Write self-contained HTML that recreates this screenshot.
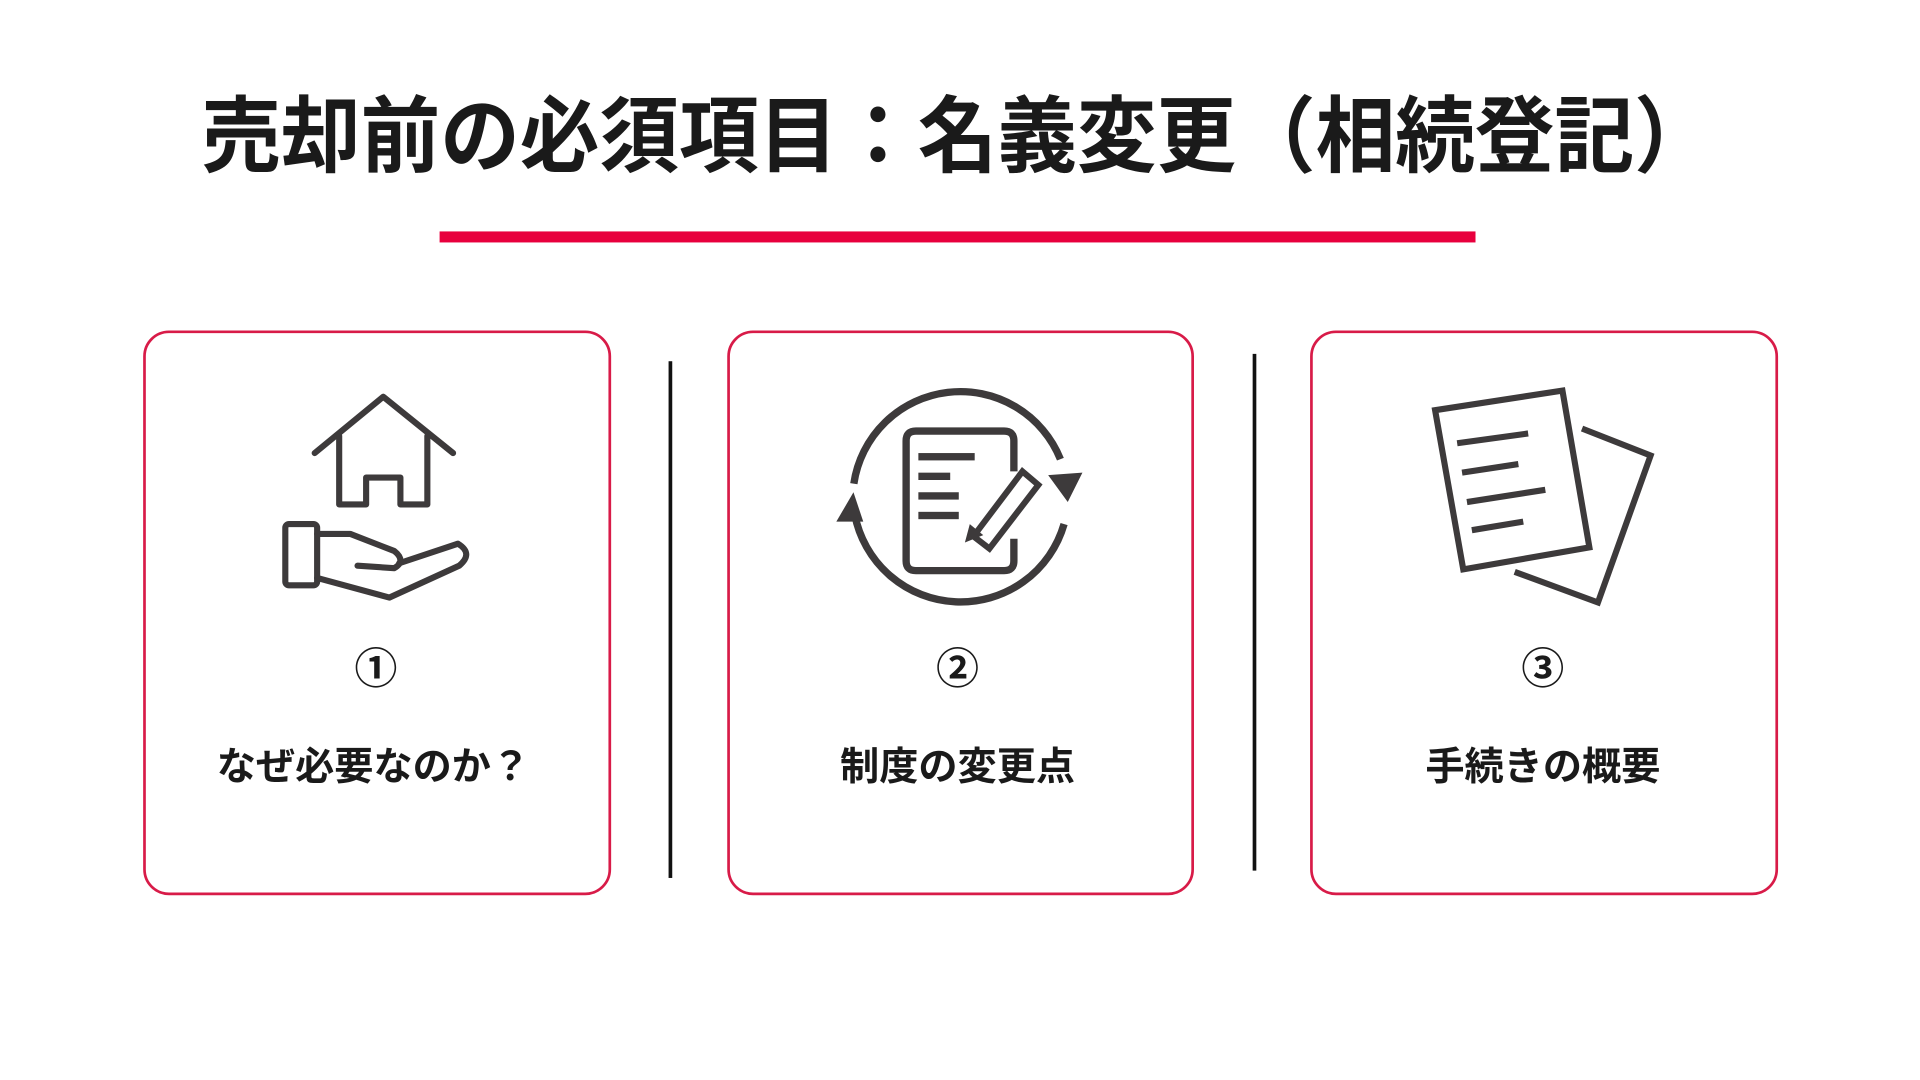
<!DOCTYPE html>
<html><head><meta charset="utf-8"><style>
html,body{margin:0;padding:0;background:#fff;}
svg{display:block;}
text{font-family:"Liberation Sans","Noto Sans CJK JP",sans-serif;font-weight:bold;fill:#1a1a1a;}
</style></head><body>
<svg width="1920" height="1080" viewBox="0 0 1568 882" xmlns="http://www.w3.org/2000/svg">
<rect width="1568" height="882" fill="#fff"/>
<text x="782" y="135" font-size="68" text-anchor="middle" textLength="1235" lengthAdjust="spacingAndGlyphs">売却前の必須項目：名義変更（相続登記）</text>
<rect x="359" y="189" width="846" height="9" fill="#e8003d"/>
<g fill="none" stroke="#d81b48" stroke-width="2.2">
<rect x="118" y="271" width="380" height="459" rx="20"/>
<rect x="595" y="271" width="379" height="459" rx="20"/>
<rect x="1071" y="271" width="380" height="459" rx="20"/>
</g>
<rect x="546" y="295" width="3" height="422" fill="#111"/>
<rect x="1023" y="289" width="3" height="422" fill="#111"/>
<!-- icon 1 -->
<g fill="none" stroke="#3d3a3b" stroke-width="5" stroke-linejoin="round" stroke-linecap="round">
<polyline points="257,370 313,324 370,370"/>
<polyline points="277,356 277,412 299,412 299,390 327,390 327,412 349,412 349,356"/>
<rect x="233" y="428" width="26" height="50" rx="3"/>
<path d="M259,436 L286,436 L322,450 Q332,458 322,464 L292,462"/>
<path d="M259,472 L318,488 L375,462 Q387,452 374,444 L326,460"/>
</g>
<!-- icon 2 -->
<g fill="none" stroke="#3d3a3b" stroke-width="6">
<path d="M697.3,395 A88,88 0 0 1 866,375"/>
<path d="M869,428 A88,88 0 0 1 698,420"/>
<path d="M828,385 L828,360 Q828,352 820,352 L748,352 Q740,352 740,360 L740,458 Q740,466 748,466 L820,466 Q828,466 828,458 L828,440"/>
<path d="M795,438 L835,385 L848,396 L808,448 Z" stroke-width="5"/>
</g>
<g fill="#3d3a3b">
<rect x="750" y="370" width="46" height="6"/><rect x="750" y="386" width="26" height="6"/><rect x="750" y="402" width="33" height="6"/><rect x="750" y="418" width="33" height="6"/>
<polygon points="856,388 884,386 872,410"/>
<polygon points="683,426 705,426 697,402"/>
<polygon points="788,443 792,428 803,437"/>
</g>
<!-- icon 3 -->
<g fill="none" stroke="#3d3a3b" stroke-width="5" stroke-linejoin="miter">
<polyline points="1292,350 1348,372 1305,492 1237,467"/>
<polygon points="1172,335 1276,319 1298,447 1195,465"/>
</g>
<g stroke="#3d3a3b" stroke-width="5">
<line x1="1190" y1="362" x2="1248" y2="354"/>
<line x1="1194" y1="386" x2="1240" y2="379"/>
<line x1="1198" y1="410" x2="1262" y2="400"/>
<line x1="1202" y1="433" x2="1244" y2="426"/>
</g>
<text x="307" y="558" font-size="35" text-anchor="middle">①</text>
<text x="782" y="558" font-size="35" text-anchor="middle">②</text>
<text x="1260" y="558" font-size="35" text-anchor="middle">③</text>
<text x="305" y="637" font-size="32" text-anchor="middle">なぜ必要なのか？</text>
<text x="782" y="637" font-size="32" text-anchor="middle">制度の変更点</text>
<text x="1260" y="637" font-size="32" text-anchor="middle">手続きの概要</text>
</svg>
</body></html>
